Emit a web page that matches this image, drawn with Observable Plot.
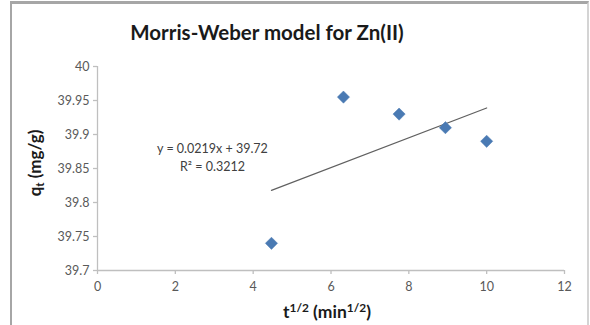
<!DOCTYPE html>
<html>
<head>
<meta charset="utf-8">
<script src="https://cdn.jsdelivr.net/npm/d3@7"></script>
<script src="https://cdn.jsdelivr.net/npm/@observablehq/plot@0.6"></script>
<style>
  html, body { margin: 0; padding: 0; background: #fff; }
  #chart { position: relative; width: 590px; height: 325px; overflow: hidden; font-family: Lato, "Open Sans", sans-serif; }
  #frame { position: absolute; left: 10px; top: 1px; width: 575px; height: 340px;
           border-top: 3px solid #a6a6a6; border-left: 2px solid #a6a6a6; border-right: 2px solid #d4d4d4; }
  #title { position: absolute; top: 32px; left: 267px; transform: translate(-50%, -50%);
           font-weight: bold; font-size: 20.5px; color: #1a1a1a; white-space: nowrap; }
  #ylab { position: absolute; left: 35px; top: 163px; transform: translate(-50%, -50%) rotate(-90deg);
          font-weight: bold; font-size: 17px; color: #1a1a1a; white-space: nowrap; }
  #xlab { position: absolute; left: 327px; top: 311px; transform: translate(-50%, -50%);
          font-weight: bold; font-size: 17.5px; color: #1a1a1a; white-space: nowrap; }
  sup, sub { font-size: 0.68em; }
  sup { vertical-align: 0.5em; }
  sub { vertical-align: -0.25em; }
  svg { position: absolute; left: 0; top: 0; }
</style>
</head>
<body>
<div id="chart">
  <div id="frame"></div>
  <div id="title">Morris-Weber model for Zn(II)</div>
  <div id="ylab">q<sub>t</sub> (mg/g)</div>
  <div id="xlab">t<sup>1/2</sup> (min<sup>1/2</sup>)</div>
</div>
<script>
// Data
const tSqrt = [4.47, 6.32, 7.75, 8.94, 10.0];           // t^1/2 (min^1/2)
const qt    = [39.74, 39.955, 39.93, 39.91, 39.89];     // qt (mg/g)
const slope = 0.0219;
const intercept = 39.72;
const eqText = "y = 0.0219x + 39.72";
const r2Text = "R² = 0.3212";
const xTicks = [0, 2, 4, 6, 8, 10, 12];
const yTicks = [39.7, 39.75, 39.8, 39.85, 39.9, 39.95, 40];

const points = tSqrt.map((x, i) => ({x, y: qt[i]}));
const xMin = d3.min(tSqrt), xMax = d3.max(tSqrt);
const trend = [xMin, xMax].map(x => ({x, y: slope * x + intercept}));

const axisColor = "#bfbfbf";
const tickText = "#595959";

const plot = Plot.plot({
  width: 590,
  height: 325,
  marginLeft: 97,
  marginRight: 26,
  marginTop: 66,
  marginBottom: 55,
  style: {fontFamily: "Lato, 'Open Sans', sans-serif", background: "transparent"},
  x: {domain: [0, 12], label: null},
  y: {domain: [39.7, 40], label: null},
  marks: [
    Plot.ruleX([0], {stroke: axisColor, strokeWidth: 1.3}),
    Plot.ruleY([39.7], {stroke: axisColor, strokeWidth: 1.3}),
    Plot.axisX({ticks: xTicks, tickSize: 4, tickPadding: 8, stroke: axisColor, strokeWidth: 1.3,
      fill: tickText, fontSize: 12.5, tickFormat: d => String(d)}),
    Plot.axisY({ticks: yTicks, tickSize: 4, tickPadding: 4, stroke: axisColor, strokeWidth: 1.3,
      fill: tickText, fontSize: 12.5, tickFormat: d => String(+d.toFixed(2))}),
    Plot.line(trend, {x: "x", y: "y", stroke: "#606060", strokeWidth: 1.2}),
    Plot.dot(points, {x: "x", y: "y", symbol: "diamond2", r: 5.5, fill: "#4a7ab3", stroke: "#4a7ab3", strokeWidth: 0.5}),
    Plot.text([trend[0]], {x: "x", y: "y", text: () => eqText, dx: -59, dy: -41, fontSize: 12.5, fill: "#404040"}),
    Plot.text([trend[0]], {x: "x", y: "y", text: () => r2Text, dx: -59, dy: -23, fontSize: 12.5, fill: "#404040"})
  ]
});
document.getElementById("chart").appendChild(plot);
</script>
</body>
</html>
